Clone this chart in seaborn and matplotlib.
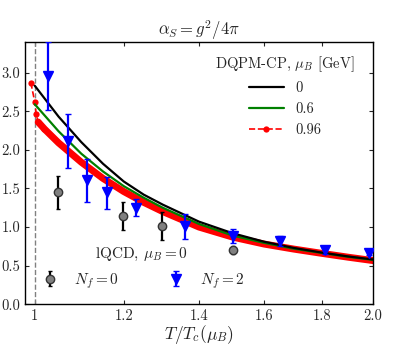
import matplotlib
matplotlib.use("Agg")
import matplotlib.pyplot as plt
import seaborn as sns
import pandas as pd
import numpy as np

# ---- data ----
x_mu0 = [1.0, 1.05, 1.1, 1.15, 1.2, 1.25, 1.3, 1.4, 1.5, 1.6, 1.7, 1.8, 1.9, 2.0]
y_mu0 = [2.83, 2.43, 2.10, 1.82, 1.59, 1.42, 1.29, 1.07, 0.92, 0.81, 0.73, 0.67, 0.62, 0.58]
x_mu06 = [1.0, 1.05, 1.1, 1.15, 1.2, 1.25, 1.3, 1.4, 1.5, 1.6, 1.7, 1.8, 1.9, 2.0]
y_mu06 = [2.59, 2.24, 1.95, 1.72, 1.53, 1.38, 1.25, 1.04, 0.89, 0.795, 0.72, 0.665, 0.615, 0.575]
x_mu096 = [0.992, 1.0, 1.003, 1.007, 1.02, 1.05, 1.1, 1.15, 1.2, 1.25, 1.3, 1.4, 1.5, 1.6, 1.7, 1.8, 1.9, 2.0]
y_mu096 = [2.87, 2.62, 2.46, 2.36, 2.27, 2.09, 1.84, 1.63, 1.46, 1.32, 1.20, 1.00, 0.87, 0.78, 0.715, 0.66, 0.61, 0.566]

nf0_x = [1.048, 1.198, 1.299, 1.50]
nf0_y = [1.45, 1.14, 1.01, 0.70]
nf0_lo = [0.22, 0.18, 0.18, 0.05]
nf0_hi = [0.21, 0.18, 0.18, 0.05]

nf2_x = [1.027, 1.07, 1.112, 1.16, 1.231, 1.36, 1.50, 1.652, 1.813, 1.985]
nf2_y = [2.95, 2.12, 1.61, 1.45, 1.25, 1.01, 0.89, 0.82, 0.705, 0.67]
nf2_lo = [0.43, 0.35, 0.29, 0.22, 0.11, 0.16, 0.10, 0.07, 0.05, 0.03]
nf2_hi = [0.44, 0.34, 0.27, 0.20, 0.11, 0.16, 0.08, 0.07, 0.04, 0.02]

xticks = [1.0, 1.2, 1.4, 1.6, 1.8, 2.0]
xticklabels = ['1', '1.2', '1.4', '1.6', '1.8', '2.0']
yticks = [0.0, 0.5, 1.0, 1.5, 2.0, 2.5, 3.0]
yticklabels = ['0.0', '0.5', '1.0', '1.5', '2.0', '2.5', '3.0']

sns.set_style('ticks')
plt.rcParams['font.family'] = ['cmr10', 'DejaVu Serif']
plt.rcParams['mathtext.fontset'] = 'cm'
plt.rcParams['axes.formatter.use_mathtext'] = True
plt.rcParams['axes.unicode_minus'] = False

fig = plt.figure(figsize=(4.15, 3.46), dpi=100)
ax = fig.add_axes([0.060, 0.1205, 0.839, 0.759])

df0 = pd.DataFrame({'x': x_mu0, 'y': y_mu0})
df6 = pd.DataFrame({'x': x_mu06, 'y': y_mu06})
df9 = pd.DataFrame({'x': x_mu096, 'y': y_mu096})

ax.axvline(1.0, color='gray', ls='--', lw=1.0, zorder=1)

# red thick band (dense dotted curve)
sns.lineplot(data=df9.iloc[3:], x='x', y='y', ax=ax, color='red', lw=5.0,
             sort=False, estimator=None, zorder=2, solid_capstyle='round')
sns.lineplot(data=df9.iloc[:5], x='x', y='y', ax=ax, color='red', lw=1.2,
             ls='--', marker='o', ms=4.5, markeredgewidth=0, sort=False,
             estimator=None, zorder=2)
red_handle = ax.get_lines()[-1]
sns.lineplot(data=df6, x='x', y='y', ax=ax, color='green', lw=1.6,
             sort=False, estimator=None, zorder=3)
green_handle = ax.get_lines()[-1]
sns.lineplot(data=df0, x='x', y='y', ax=ax, color='black', lw=1.6,
             sort=False, estimator=None, zorder=3)
black_handle = ax.get_lines()[-1]

e0 = ax.errorbar(nf0_x, nf0_y, yerr=[nf0_lo, nf0_hi], fmt='o', color='black',
                 mfc='gray', mec='#333333', ms=6, elinewidth=1.6, capsize=1.5,
                 zorder=4)
e2 = ax.errorbar(nf2_x, nf2_y, yerr=[nf2_lo, nf2_hi], fmt='v', color='blue',
                 mfc='blue', mec='blue', ms=6.5, elinewidth=1.6, capsize=2,
                 zorder=4)

ax.set_xscale('log')
ax.set_xlim(0.98, 2.0)
ax.set_ylim(0, 3.4)
ax.set_xticks(xticks)
ax.set_xticklabels(xticklabels)
ax.xaxis.set_minor_locator(matplotlib.ticker.NullLocator())
ax.set_yticks(yticks)
ax.set_yticklabels(yticklabels)
ax.tick_params(direction='in', top=True, right=True, labelsize=10.5, length=3,
               width=0.8, pad=3.5)
for s in ax.spines.values():
    s.set_linewidth(1.0)
    s.set_color('black')

ax.set_xlabel(r'$T/T_c(\mu_B)$', fontsize=12.5, labelpad=0)
ax.set_ylabel('')
ax.set_title(r'$\alpha_S = g^2/4\pi$', fontsize=12, pad=5)

leg1 = ax.legend([black_handle, green_handle, red_handle], ['0', '0.6', '0.96'],
                 title=r'DQPM-CP, $\mu_B$ [GeV]', loc='upper right',
                 bbox_to_anchor=(0.985, 1.0), frameon=False, fontsize=10.5,
                 title_fontsize=10.5, handlelength=2.4, labelspacing=0.5,
                 handletextpad=0.8)
ax.add_artist(leg1)
leg2 = ax.legend([e0, e2], [r'$N_f=0$', r'$N_f=2$'], title=r'lQCD, $\mu_B=0$',
                 loc='lower left', bbox_to_anchor=(0.0, 0.0), ncol=2,
                 frameon=False, fontsize=11, title_fontsize=11,
                 columnspacing=3.0, handlelength=1.5)

fig.savefig('out.png', dpi=100)
